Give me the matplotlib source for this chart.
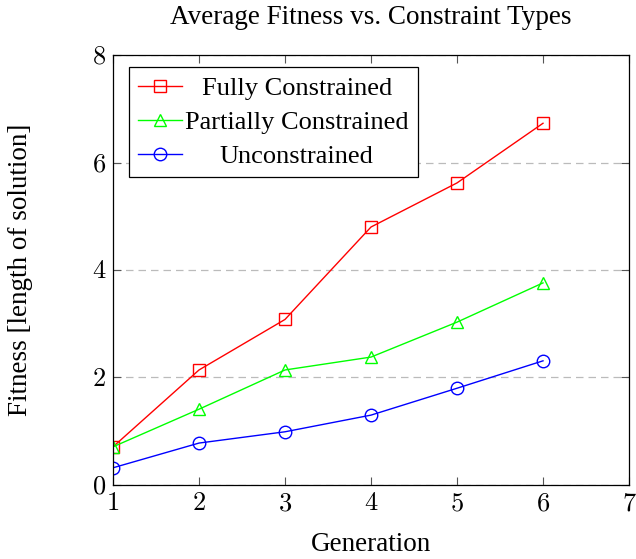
import matplotlib.pyplot as plt
from matplotlib.ticker import FuncFormatter

plt.rcParams['font.family'] = ['Liberation Serif', 'DejaVu Serif']
plt.rcParams['mathtext.fontset'] = 'cm'

# data
generation = [1, 2, 3, 4, 5, 6]
fully = [0.71, 2.14, 3.08, 4.80, 5.62, 6.73]
partially = [0.71, 1.41, 2.14, 2.38, 3.03, 3.76]
uncon = [0.32, 0.78, 0.99, 1.30, 1.80, 2.31]

fig = plt.figure(figsize=(6.36, 5.59), dpi=100)
ax = fig.add_axes([0.1777, 0.1324, 0.8113, 0.7692])

ax.plot(generation, fully, color='red', lw=1.0, marker='s', markersize=9,
        markerfacecolor='none', markeredgewidth=1.0, label='Fully Constrained')
ax.plot(generation, partially, color='#00ff00', lw=1.0, marker='^', markersize=9,
        markerfacecolor='none', markeredgewidth=1.0, label='Partially Constrained')
ax.plot(generation, uncon, color='blue', lw=1.0, marker='o', markersize=9,
        markerfacecolor='none', markeredgewidth=1.0, label='Unconstrained')

ax.set_xlim(1, 7)
ax.set_ylim(0, 8)
ax.set_xticks([1, 2, 3, 4, 5, 6, 7])
ax.set_yticks([0, 2, 4, 6, 8])
fmt = FuncFormatter(lambda v, p: '$%d$' % v)
ax.xaxis.set_major_formatter(fmt)
ax.yaxis.set_major_formatter(fmt)
ax.grid(axis='y', color='#bbbbbb', linestyle=(0, (6, 4)), lw=0.9)
ax.tick_params(direction='in', top=True, right=True, length=6, labelsize=19,
               color='#555555')
ax.tick_params(axis='x', pad=6)
ax.tick_params(axis='y', pad=5)
for s in ax.spines.values():
    s.set_linewidth(0.9)

ax.set_title('Average Fitness vs. Constraint Types', fontsize=19.5, va='center',
             y=1 + (55 - 17) / 430, pad=0)
ax.set_xlabel('Generation', fontsize=19.5, va='center')
ax.xaxis.set_label_coords(0.5, -(545 - 485) / 430)
ax.set_ylabel('Fitness [length of solution]', fontsize=19.5, va='center')
ax.yaxis.set_label_coords(-(113 - 20) / 516, 0.5)

leg = ax.legend(loc='upper left', bbox_to_anchor=(0.031, 0.972), fontsize=19,
                fancybox=False, edgecolor='black', framealpha=1,
                handlelength=1.67, borderpad=0.35, labelspacing=0.4,
                handletextpad=0.1, borderaxespad=0)
leg.get_frame().set_linewidth(0.9)

# centre the legend labels like pgfplots does
fig.canvas.draw()
texts = leg.get_texts()
widths = [t.get_window_extent().width for t in texts]
wmax = max(widths)
for t, w in zip(texts, widths):
    t.set_x((wmax - w) / 2)

fig.savefig('out.png', dpi=100)
